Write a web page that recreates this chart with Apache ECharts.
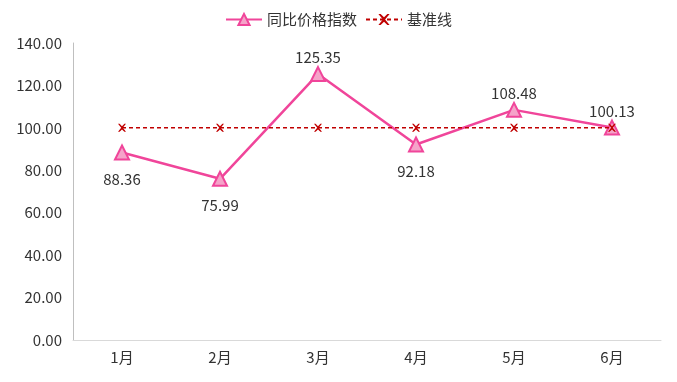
<!DOCTYPE html>
<html><head><meta charset="utf-8">
<script src="https://cdn.jsdelivr.net/npm/echarts@6/dist/echarts.min.js"></script>
<style>html,body{margin:0;padding:0;background:#fff}#c{width:677px;height:382px}</style>
</head><body><div id="c"></div>
<script>
const categories = ['1月','2月','3月','4月','5月','6月'];
const indexValues = [88.36, 75.99, 125.35, 92.18, 108.48, 100.13];
const baseValues = [100, 100, 100, 100, 100, 100];
const labelPos = ['bottom','bottom','top','bottom','top','top'];
const xPath = 'path://M0,0L2,0L5,3L8,0L10,0L6,5L10,10L8,10L5,7L2,10L0,10L4,5Z';
const font = '"Noto Sans CJK SC","Microsoft YaHei",sans-serif';
const chart = echarts.init(document.getElementById('c'), null, {renderer:'canvas'});
chart.setOption({
  animation:false,
  textStyle:{fontFamily:font},
  legend:{top:7,left:'center',itemWidth:36,itemHeight:14,itemGap:8,
    textStyle:{fontSize:15,color:'#333',fontFamily:font},
    data:['同比价格指数','基准线']},
  grid:{left:73,right:16,top:43,bottom:42,containLabel:false},
  xAxis:{type:'category',data:categories,boundaryGap:true,
    axisLine:{lineStyle:{color:'#d9d9d9'}},axisTick:{show:false},
    axisLabel:{color:'#333',fontSize:15,margin:10,fontFamily:font}},
  yAxis:{type:'value',min:0,max:140,interval:20,
    axisLine:{show:true,lineStyle:{color:'#bfbfbf'}},axisTick:{show:false},
    splitLine:{show:false},
    axisLabel:{color:'#333',fontSize:15,margin:11,formatter:v=>v.toFixed(2),fontFamily:font}},
  series:[
    {name:'同比价格指数',type:'line',z:3,
     data:indexValues.map((v,i)=>({value:v,label:{position:labelPos[i],distance:labelPos[i]==='top'?1:11}})),
     symbol:'triangle',symbolSize:14,
     lineStyle:{color:'#f0459a',width:2.5},
     itemStyle:{color:'#f5a3c9',borderColor:'#f0459a',borderWidth:2},
     label:{show:true,fontSize:15,color:'#333',formatter:p=>p.value.toFixed(2),fontFamily:font}},
    {name:'基准线',type:'line',z:4,data:baseValues,
     symbol:xPath,symbolSize:8,
     lineStyle:{color:'#c00000',width:1.5,type:[4,3]},
     itemStyle:{color:'#c00000'}}
  ]
});
</script></body></html>
